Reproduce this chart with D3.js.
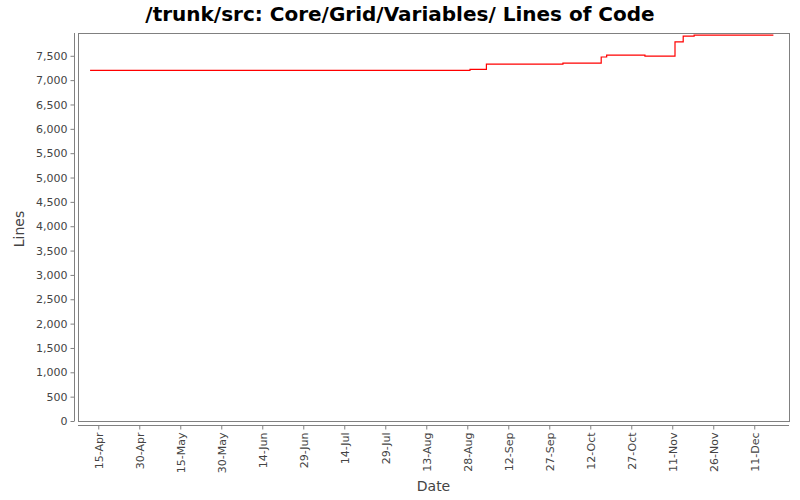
<!DOCTYPE html>
<meta charset="utf-8">
<script src="https://d3js.org/d3.v7.min.js"></script>
<style>
  body { margin: 0; background: #fff; }
  text { font-family: "DejaVu Sans", sans-serif; }
</style>
<body>
<div id="chart"></div>
<script>

// step dates and line counts
var stepDates = ["2009-04-12", "2009-08-29", "2009-09-04", "2009-10-02", "2009-10-16",
                 "2009-10-18", "2009-11-01", "2009-11-12", "2009-11-15", "2009-11-19", "2009-12-18"];
var lineCounts = [7200, 7220, 7330, 7350, 7475, 7515, 7495, 7785, 7905, 7925, 7925];

var yTicks = [0, 500, 1000, 1500, 2000, 2500, 3000, 3500, 4000, 4500, 5000, 5500, 6000, 6500, 7000, 7500];
var xTickDates = ["2009-04-15", "2009-04-30", "2009-05-15", "2009-05-30", "2009-06-14", "2009-06-29",
                  "2009-07-14", "2009-07-29", "2009-08-13", "2009-08-28", "2009-09-12", "2009-09-27",
                  "2009-10-12", "2009-10-27", "2009-11-11", "2009-11-26", "2009-12-11"];

var W = 800, H = 500;
var plot = {left: 78, top: 33, right: 789, bottom: 421};

var parse = d3.timeParse("%Y-%m-%d");
var data = stepDates.map(function(d, i) { return {date: parse(d), value: lineCounts[i]}; });

var svg = d3.select("#chart").append("svg")
  .attr("width", W).attr("height", H);

var x = d3.scaleTime()
  .domain([new Date(2009, 3, 7, 14), new Date(2009, 11, 23, 17)])
  .range([plot.left, plot.right]);

var y = d3.scaleLinear()
  .domain([0, 7968])
  .range([plot.bottom, plot.top]);

// title
svg.append("text")
  .attr("x", 400).attr("y", 21)
  .attr("text-anchor", "middle")
  .style("font-size", "20px").style("font-weight", "bold")
  .attr("fill", "#000")
  .text("/trunk/src: Core/Grid/Variables/ Lines of Code");

// plot frame
svg.append("rect")
  .attr("x", plot.left + 0.5).attr("y", plot.top + 0.5)
  .attr("width", plot.right - plot.left).attr("height", plot.bottom - plot.top)
  .attr("fill", "#fff").attr("stroke", "#808080");

// Y axis
var yAxis = svg.append("g")
  .attr("transform", "translate(" + (plot.left - 3.5) + ",0)")
  .call(d3.axisLeft(y).tickValues(yTicks).tickFormat(d3.format(",")).tickSizeOuter(0).tickSize(4).tickPadding(3));

// X axis
var xAxis = svg.append("g")
  .attr("transform", "translate(0," + (plot.bottom + 4.5) + ")")
  .call(d3.axisBottom(x).tickValues(xTickDates.map(parse)).tickFormat(d3.timeFormat("%d-%b")).tickSizeOuter(0).tickSize(4));

xAxis.selectAll("text")
  .attr("transform", "rotate(-90)")
  .attr("text-anchor", "end")
  .attr("x", -7).attr("y", 0).attr("dy", "0.35em");

[yAxis, xAxis].forEach(function(a) {
  a.select(".domain").attr("stroke", "#808080");
  a.selectAll(".tick line").attr("stroke", "#808080");
  a.selectAll(".tick text").attr("fill", "#444").style("font-size", "11px")
    .style("font-family", "'DejaVu Sans', sans-serif");
});
yAxis.select(".domain").attr("d", "M0," + plot.top + "V" + plot.bottom);
xAxis.select(".domain").attr("d", "M" + plot.left + ",0H" + plot.right);

// axis labels
svg.append("text")
  .attr("transform", "translate(24,229) rotate(-90)")
  .attr("text-anchor", "middle")
  .attr("fill", "#444").style("font-size", "14px")
  .text("Lines");

svg.append("text")
  .attr("x", (plot.left + plot.right) / 2).attr("y", 491)
  .attr("text-anchor", "middle")
  .attr("fill", "#444").style("font-size", "14px")
  .text("Date");

// the step line
var line = d3.line()
  .curve(d3.curveStepAfter)
  .x(function(d) { return x(d.date); })
  .y(function(d) { return y(d.value); });

svg.append("path")
  .datum(data)
  .attr("d", line)
  .attr("fill", "none")
  .attr("stroke", "#ff0000")
  .attr("stroke-width", 1.2);

</script>
</body>
